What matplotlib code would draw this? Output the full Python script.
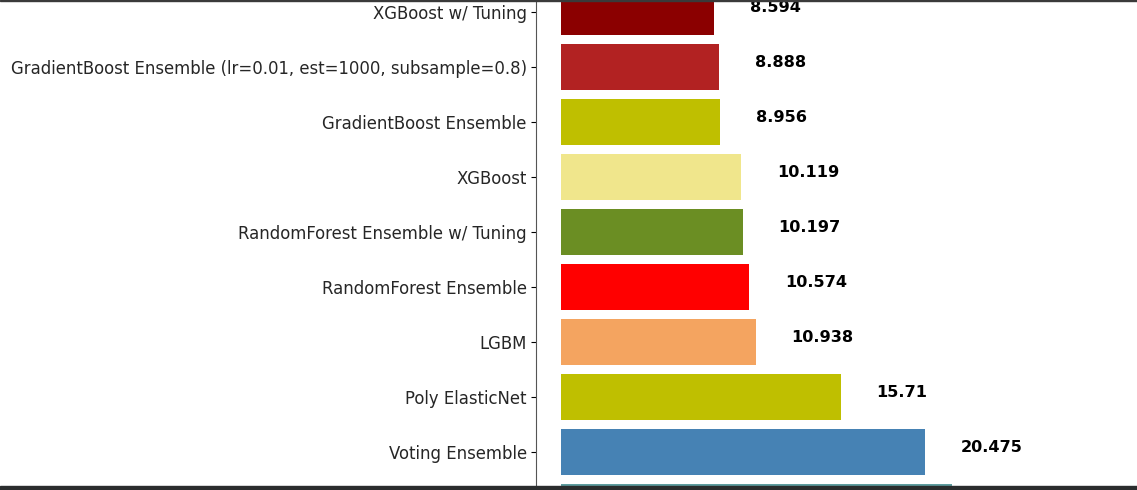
import matplotlib
matplotlib.use("Agg")
import matplotlib.pyplot as plt
from matplotlib.patches import Rectangle

models = [
    "XGBoost w/ Tuning",
    "GradientBoost Ensemble (lr=0.01, est=1000, subsample=0.8)",
    "GradientBoost Ensemble",
    "XGBoost",
    "RandomForest Ensemble w/ Tuning",
    "RandomForest Ensemble",
    "LGBM",
    "Poly ElasticNet",
    "Voting Ensemble",
    "",
]
scores = [8.594, 8.888, 8.956, 10.119, 10.197, 10.574, 10.938, 15.71, 20.475, 21.97]
colors = ["darkred", "firebrick", "y", "khaki", "olivedrab", "red",
          "sandybrown", "y", "steelblue", "cadetblue"]

W, H = 1137, 490
fig = plt.figure(figsize=(W / 100, H / 100), dpi=100)
ax = fig.add_axes([536 / W, 0, 1 - 536 / W, 1])

pos = list(range(len(models)))
ax.barh(pos, scores, height=0.82, color=colors)

y_bottom = (490 - 12) / 55
for i, v in enumerate(scores):
    if i < y_bottom:  # only labels inside the visible crop
        ax.text(v + 2, i, str(v), fontsize=11.6, fontweight="bold", color="black")

ax.set_yticks(pos)
ax.set_yticklabels(models, fontsize=11.9, color="#262626")
ax.tick_params(axis="y", pad=3.2)
px = 17.8
ax.set_xlim(-25 / px, (W - 536) / px - 25 / px)
ax.set_ylim(y_bottom, -12 / 55)
for s in ["top", "right", "bottom"]:
    ax.spines[s].set_visible(False)
ax.spines["left"].set_color("#555555")
ax.set_xticks([])

# screenshot borders
fig.patches.append(Rectangle((0, 1 - 1.5 / H), 1, 1.5 / H, transform=fig.transFigure,
                             color="#3a3a3a", zorder=10))
fig.patches.append(Rectangle((0, 0), 1, 4 / H, transform=fig.transFigure,
                             color="#2b2d2e", zorder=10))

fig.savefig("out.png", dpi=100)
